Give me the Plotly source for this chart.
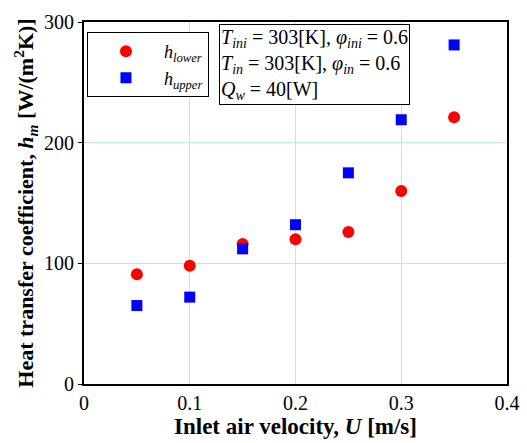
import plotly.graph_objects as go

u = [0.05, 0.10, 0.15, 0.20, 0.25, 0.30, 0.35]
h_lower = [91, 98, 116, 120, 126, 160, 221]
h_upper = [65, 72, 112, 132, 175, 219, 281]

FONT = "Liberation Serif"
GRID = "#bfeebf"

fig = go.Figure()
fig.add_trace(go.Scatter(
    x=u, y=h_lower, mode="markers",
    name="<i>h</i><sub><i>lower</i></sub>",
    marker=dict(symbol="circle", size=12, color="#ff0000", line=dict(width=0)),
))
fig.add_trace(go.Scatter(
    x=u, y=h_upper, mode="markers",
    name="<i>h</i><sub><i>upper</i></sub>",
    marker=dict(symbol="square", size=11, color="#0000ff", line=dict(width=0)),
))

fig.add_annotation(
    xref="paper", yref="paper", x=0.319, y=0.994, xanchor="left", yanchor="top",
    align="left", showarrow=False,
    text=("<i>T</i><sub><i>ini</i></sub> = 303[K], <i>φ</i><sub><i>ini</i></sub> = 0.6<br>"
          "<i>T</i><sub><i>in</i></sub> = 303[K], <i>φ</i><sub><i>in</i></sub> = 0.6<br>"
          "<i>Q</i><sub><i>w</i></sub> = 40[W]"),
    font=dict(family=FONT, size=20, color="black"),
    bordercolor="black", borderwidth=1, bgcolor="white", borderpad=1,
)

fig.update_layout(
    width=527, height=443,
    margin=dict(l=84, r=20, t=22, b=59),
    paper_bgcolor="white", plot_bgcolor="white",
    font=dict(family=FONT, size=20, color="black"),
    showlegend=True,
    legend=dict(
        x=0.007, y=0.972, xanchor="left", yanchor="top",
        bgcolor="white", bordercolor="black", borderwidth=1,
        font=dict(family=FONT, size=18, color="black"),
        itemwidth=66, tracegroupgap=0,
    ),
    xaxis=dict(
        range=[0, 0.4], tickvals=[0, 0.1, 0.2, 0.3, 0.4],
        ticktext=["0", "0.1", "0.2", "0.3", "0.4"],
        showgrid=True, gridcolor=GRID, gridwidth=1,
        showline=True, linecolor="black", linewidth=2, mirror=True,
        ticks="", zeroline=False, automargin=False,
        tickfont=dict(family=FONT, size=20),
        title=dict(text="<b>Inlet air velocity, <i>U</i> [m/s]</b>",
                   font=dict(family=FONT, size=23), standoff=2),
    ),
    yaxis=dict(
        range=[0, 300], tickvals=[0, 100, 200, 300],
        showgrid=True, gridcolor=GRID, gridwidth=1,
        showline=True, linecolor="black", linewidth=2, mirror=True,
        ticks="outside", ticklen=4, tickcolor="black", zeroline=False,
        automargin=False,
        tickfont=dict(family=FONT, size=20),
        title=dict(text="<b>Heat transfer coefficient, <i>h</i><sub><i>m</i></sub> [W/(m<sup>2</sup>K)]</b>",
                   font=dict(family=FONT, size=22), standoff=4),
    ),
)

fig.write_html("out.html", config={"displayModeBar": False},
               post_script="document.body.style.margin='0';")
